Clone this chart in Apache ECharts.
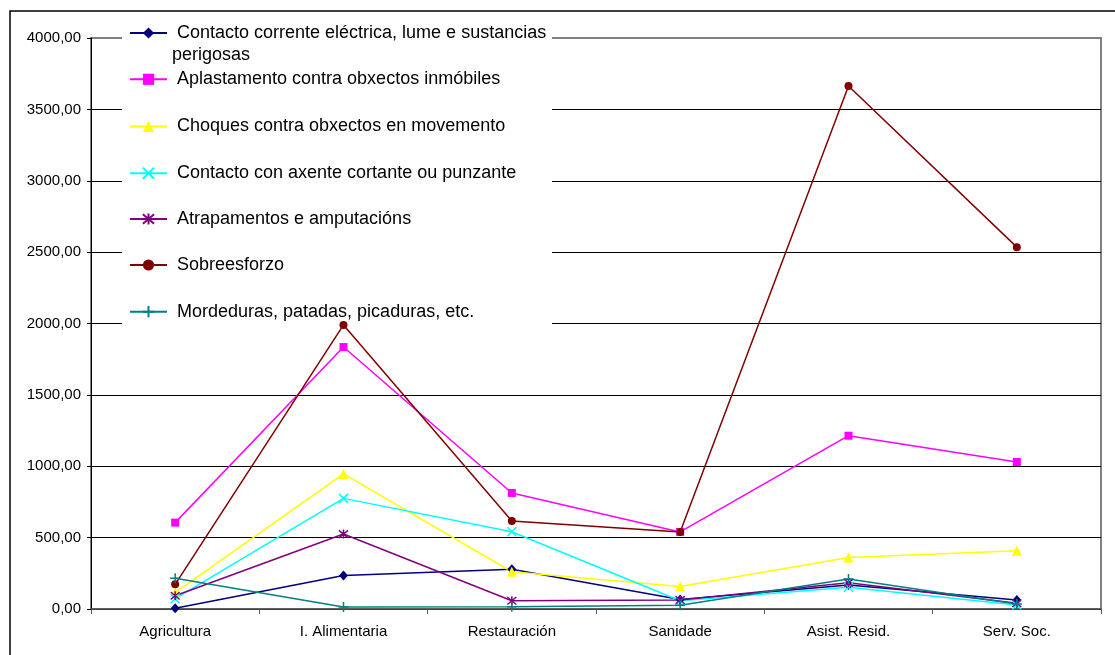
<!DOCTYPE html>
<html>
<head>
<meta charset="utf-8">
<script src="https://cdn.jsdelivr.net/npm/echarts@6/dist/echarts.min.js"></script>
<style>
html,body{margin:0;padding:0;background:#fff;}
#chart{width:1115px;height:655px;}
</style>
</head>
<body>
<div id="chart"></div>
<script>
var categories = ['Agricultura', 'I. Alimentaria', 'Restauración', 'Sanidade', 'Asist. Resid.', 'Serv. Soc.'];
var yTicks = [0, 500, 1000, 1500, 2000, 2500, 3000, 3500, 4000];

var seriesNames = [
  'Contacto corrente eléctrica, lume e sustancias perigosas',
  'Aplastamento contra obxectos inmóbiles',
  'Choques contra obxectos en movemento',
  'Contacto con axente cortante ou punzante',
  'Atrapamentos e amputacións',
  'Sobreesforzo',
  'Mordeduras, patadas, picaduras, etc.'
];
var electrica    = [5, 235, 278, 66, 168, 63];
var aplastamento = [605, 1835, 813, 540, 1214, 1030];
var choques      = [115, 946, 261, 157, 360, 408];
var cortante     = [72, 775, 541, 58, 152, 28];
var atrapamentos = [93, 525, 58, 63, 184, 40];
var sobreesforzo = [173, 1990, 616, 539, 3664, 2535];
var mordeduras   = [215, 14, 16, 26, 210, 35];

var seriesData = [electrica, aplastamento, choques, cortante, atrapamentos, sobreesforzo, mordeduras];
var colors = ['#000080', '#FF00FF', '#FFFF00', '#00FFFF', '#800080', '#800000', '#008080'];
var symbols = [
  'diamond', 'rect', 'triangle',
  'path://M0,0L10,10M10,0L0,10',
  'path://M0,0L10,10M10,0L0,10M5,-1L5,11',
  'circle',
  'path://M5,0L5,10M0,5L10,5'
];
var symbolSizes = [[9, 10], 8, 10, 9, 9, 8, 10];
var strokeOnly = [false, false, false, true, true, false, true];
var legendCenters = [33, 79.3, 126.5, 173.2, 219, 265, 311.7];

var FONT = "'Liberation Sans', Arial, sans-serif";

var series = seriesNames.map(function (name, i) {
  return {
    name: name,
    type: 'line',
    data: seriesData[i],
    symbol: symbols[i],
    symbolSize: symbolSizes[i],
    showAllSymbol: true,
    animation: false,
    lineStyle: { color: colors[i], width: 1.5 },
    itemStyle: strokeOnly[i]
      ? { color: colors[i], borderColor: colors[i], borderWidth: 1.5 }
      : { color: colors[i], borderWidth: 0 },
    emphasis: { disabled: true }
  };
});

var legends = seriesNames.map(function (name, i) {
  var first = (i === 0);
  return {
    data: [name],
    orient: 'vertical',
    left: 129,
    top: first ? legendCenters[0] - 33 : legendCenters[i] - 11,
    padding: 0,
    itemWidth: 37,
    itemHeight: 14,
    selectedMode: false,
    formatter: function (n) {
      if (n === seriesNames[0]) {
        return ' \n Contacto corrente eléctrica, lume e sustancias\nperigosas';
      }
      return ' ' + n;
    },
    textStyle: {
      fontFamily: FONT,
      fontSize: 18,
      color: '#000',
      lineHeight: 22
    }
  };
});

var chart = echarts.init(document.getElementById('chart'), null, { renderer: 'canvas' });
chart.setOption({
  animation: false,
  backgroundColor: '#fff',
  textStyle: { fontFamily: FONT },
  grid: {
    left: 91, right: 14, top: 38, bottom: 46,
    show: true, borderColor: '#808080', borderWidth: 2, backgroundColor: 'transparent'
  },
  legend: legends,
  graphic: [
    {
      type: 'rect', z: 1, silent: true,
      shape: { x: 122, y: 13, width: 430, height: 314 },
      style: { fill: '#fff', stroke: null }
    },
    {
      type: 'rect', z: 10, silent: true,
      shape: { x: 10, y: 11, width: 1120, height: 660 },
      style: { fill: null, stroke: '#000', lineWidth: 1.5 }
    }
  ],
  xAxis: {
    type: 'category',
    data: categories,
    boundaryGap: true,
    axisLine: { lineStyle: { color: '#555', width: 1.5 } },
    axisTick: { show: true, interval: 0, length: 5, lineStyle: { color: '#555' } },
    axisLabel: { interval: 0, margin: 15, fontSize: 15, color: '#000', fontFamily: FONT },
    splitLine: { show: false }
  },
  yAxis: {
    type: 'value',
    min: yTicks[0],
    max: yTicks[yTicks.length - 1],
    interval: yTicks[1] - yTicks[0],
    axisLine: { show: true, lineStyle: { color: '#000', width: 1 } },
    axisTick: { show: true, length: 4, lineStyle: { color: '#000' } },
    axisLabel: {
      margin: 10, fontSize: 15, color: '#000', fontFamily: FONT,
      formatter: function (v) { return v.toFixed(2).replace('.', ','); }
    },
    splitLine: { show: true, showMaxLine: false, lineStyle: { color: '#000', width: 1 } }
  },
  series: series
});
</script>
</body>
</html>
